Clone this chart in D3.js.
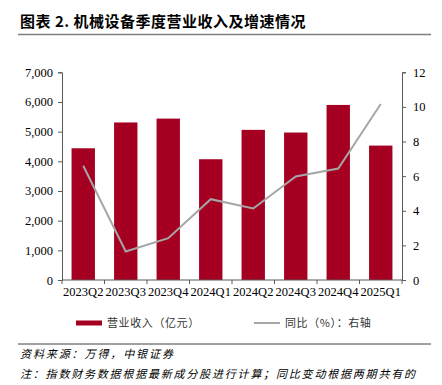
<!DOCTYPE html>
<html>
<head>
<meta charset="utf-8">
<script src="https://cdn.jsdelivr.net/npm/d3@7"></script>
<style>
  body { margin: 0; background: #fff; }
  svg { display: block; }
</style>
</head>
<body>
<div id="vis"></div>
<script>
const categories = ["2023Q2", "2023Q3", "2023Q4", "2024Q1", "2024Q2", "2024Q3", "2024Q4", "2025Q1"];
const revenue = [4440, 5310, 5440, 4070, 5060, 4970, 5900, 4530];
const yoy = [6.6, 1.65, 2.42, 4.67, 4.13, 5.98, 6.44, 10.17];
const leftTicks = [0, 1000, 2000, 3000, 4000, 5000, 6000, 7000];
const rightTicks = [0, 2, 4, 6, 8, 10, 12];

const WIDTH = 442, HEIGHT = 385;
const MARGINS = { left: 62, right: 40, top: 72.3, bottom: 105 };
const VIS_W = WIDTH - MARGINS.left - MARGINS.right;
const VIS_H = HEIGHT - MARGINS.top - MARGINS.bottom;

const BAR_COLOR = "#A50021";
const LINE_COLOR = "#A6A6A6";
const AXIS_COLOR = "#595959";
const SERIF = "'Liberation Serif', 'Times New Roman', serif";
const CJK = "'Noto Sans CJK SC', sans-serif";

const svg = d3.select("#vis")
    .append("svg")
    .attr("width", WIDTH)
    .attr("height", HEIGHT);

// title + rule
svg.append("text")
    .attr("x", 20)
    .attr("y", 27)
    .attr("font-family", CJK)
    .attr("font-weight", "bold")
    .attr("font-size", "15px")
    .attr("letter-spacing", "0.5px")
    .attr("fill", "#000")
    .text("图表 2. 机械设备季度营业收入及增速情况");

svg.append("line")
    .attr("x1", 18).attr("x2", 431)
    .attr("y1", 34.5).attr("y2", 34.5)
    .attr("stroke", "#7f7f7f")
    .attr("stroke-width", 1.5);

const X = d3.scaleBand()
    .domain(categories)
    .range([0, VIS_W])
    .paddingInner(0.45)
    .paddingOuter(0.225);

const Y_LEFT = d3.scaleLinear().domain([0, 7000]).range([VIS_H, 0]);
const Y_RIGHT = d3.scaleLinear().domain([0, 12]).range([VIS_H, 0]);

const g = svg.append("g")
    .attr("transform", "translate(" + MARGINS.left + "," + MARGINS.top + ")");

// bars
g.selectAll(".bar")
    .data(revenue)
    .enter()
    .append("rect")
    .attr("class", "bar")
    .attr("x", (d, i) => X(categories[i]))
    .attr("y", d => Y_LEFT(d))
    .attr("width", X.bandwidth())
    .attr("height", d => VIS_H - Y_LEFT(d))
    .attr("fill", BAR_COLOR);

// line
const line = d3.line()
    .x((d, i) => X(categories[i]) + X.bandwidth() / 2)
    .y(d => Y_RIGHT(d));

g.append("path")
    .datum(yoy)
    .attr("d", line)
    .attr("fill", "none")
    .attr("stroke", LINE_COLOR)
    .attr("stroke-width", 2);

// axes
function styleAxis(sel) {
    sel.select(".domain").attr("stroke", AXIS_COLOR);
    sel.selectAll(".tick line").attr("stroke", AXIS_COLOR);
    sel.selectAll(".tick text")
        .attr("fill", "#000")
        .attr("font-family", SERIF)
        .attr("font-size", "12.5px");
}

g.append("g")
    .call(d3.axisLeft(Y_LEFT).tickValues(leftTicks).tickFormat(d3.format(",")).tickSize(4).tickSizeOuter(4).tickPadding(5))
    .call(styleAxis);

g.append("g")
    .attr("transform", "translate(" + VIS_W + ",0)")
    .call(d3.axisRight(Y_RIGHT).tickValues(rightTicks).tickSize(4).tickSizeOuter(4).tickPadding(7))
    .call(styleAxis);

// bottom axis: ticks sit between categories
const xAxis = g.append("g")
    .attr("transform", "translate(0," + VIS_H + ")");
xAxis.append("line")
    .attr("x1", 0).attr("x2", VIS_W)
    .attr("stroke", AXIS_COLOR);
xAxis.selectAll(".sep")
    .data(d3.range(categories.length + 1))
    .enter()
    .append("line")
    .attr("x1", i => i * X.step()).attr("x2", i => i * X.step())
    .attr("y1", 0).attr("y2", 4)
    .attr("stroke", AXIS_COLOR);
xAxis.selectAll(".lbl")
    .data(categories)
    .enter()
    .append("text")
    .attr("x", d => X(d) + X.bandwidth() / 2)
    .attr("y", 16)
    .attr("text-anchor", "middle")
    .attr("font-family", SERIF)
    .attr("font-size", "12.5px")
    .attr("fill", "#000")
    .text(d => d);

// legend
const legend = svg.append("g").attr("font-family", CJK).attr("font-size", "11px").attr("letter-spacing", "0.6px");
legend.append("rect")
    .attr("x", 76).attr("y", 320.5)
    .attr("width", 26).attr("height", 5)
    .attr("fill", BAR_COLOR);
legend.append("text")
    .attr("x", 107).attr("y", 327)
    .attr("fill", "#333")
    .text("营业收入（亿元）");
legend.append("line")
    .attr("x1", 254).attr("x2", 280)
    .attr("y1", 323).attr("y2", 323)
    .attr("stroke", LINE_COLOR)
    .attr("stroke-width", 2);
legend.append("text")
    .attr("x", 285).attr("y", 327)
    .attr("fill", "#333")
    .text("同比（%）：右轴");

// footer
svg.append("line")
    .attr("x1", 18).attr("x2", 431)
    .attr("y1", 344).attr("y2", 344)
    .attr("stroke", "#404040")
    .attr("stroke-width", 1);

svg.append("text")
    .attr("x", 20).attr("y", 358)
    .attr("font-family", CJK)
    .attr("font-style", "italic")
    .attr("font-size", "11px")
    .attr("letter-spacing", "1.9px")
    .attr("fill", "#000")
    .text("资料来源：万得，中银证券");

svg.append("text")
    .attr("x", 20).attr("y", 378)
    .attr("font-family", CJK)
    .attr("font-style", "italic")
    .attr("font-size", "11px")
    .attr("letter-spacing", "1.8px")
    .attr("fill", "#000")
    .text("注：指数财务数据根据最新成分股进行计算；同比变动根据两期共有的");
</script>
</body>
</html>
